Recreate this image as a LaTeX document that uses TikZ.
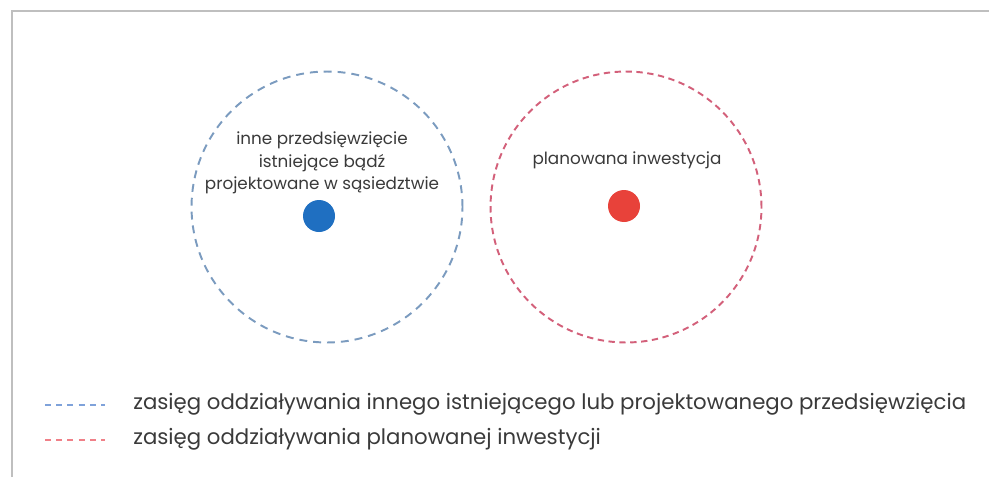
\documentclass[tikz,border=0pt]{standalone}
\usepackage{fontspec}
\setmainfont{Poppins}
\usetikzlibrary{positioning}
\definecolor{zoneblue}{HTML}{7B9BBF}
\definecolor{zonered}{HTML}{D3607A}
\definecolor{keyblue}{HTML}{7FA2DA}
\definecolor{keyred}{HTML}{F08088}
\definecolor{dotblue}{HTML}{1F6FC1}
\definecolor{dotred}{HTML}{E8423A}
\definecolor{txt}{HTML}{3A3A3A}

\begin{document}
\begin{tikzpicture}[x=0.02cm, y=-0.02cm,
	zone/.style={circle, line width=1.1pt, minimum size=5.42cm, inner sep=0pt},
	dot/.style={circle, minimum size=0.64cm, inner sep=0pt},
	lbl/.style={align=center, text=txt, font=\fontsize{9.55}{12.8}\selectfont},
	key/.style={line width=1.1pt, dash pattern=on 3.4pt off 3pt},
	keytext/.style={right, text=txt, font=\fontsize{12.1}{13}\selectfont, inner sep=0pt}
	]
	\useasboundingbox (0,0) rectangle (989,477);
	\draw[gray!50, line width=0.8pt] (12,477) -- (12,11) -- (989,11);

	% strefy oddzialywania
	\node[zone, draw=zoneblue, dash pattern=on 4.5pt off 3.4pt] (other) at (327,207) {};
	\node[zone, draw=zonered, dash pattern=on 3.6pt off 2.6pt] (plan) at (626,207) {};

	% obiekty
	\node[dot, fill=dotblue] (od) at (319,216) {};
	\node[dot, fill=dotred] (pd) at (624,206) {};
	\node[lbl] (ot) at (322,163) {inne przedsięwzięcie\\istniejące bądź\\projektowane w sąsiedztwie};
	\node[lbl] (pt) at (627,160) {planowana inwestycja};

	% legenda
	\coordinate (b1) at (45,405);
	\coordinate (b2) at (105,405);
	\coordinate (r1) at (45,440);
	\coordinate (r2) at (105,440);
	\draw[key, keyblue] (b1) -- (b2);
	\draw[key, keyred] (r1) -- (r2);
	\node[keytext] (bt) at (133,404) {zasięg oddziaływania innego istniejącego lub projektowanego przedsięwzięcia};
	\node[keytext] (rt) at (133,439) {zasięg oddziaływania planowanej inwestycji};
\end{tikzpicture}
\end{document}
